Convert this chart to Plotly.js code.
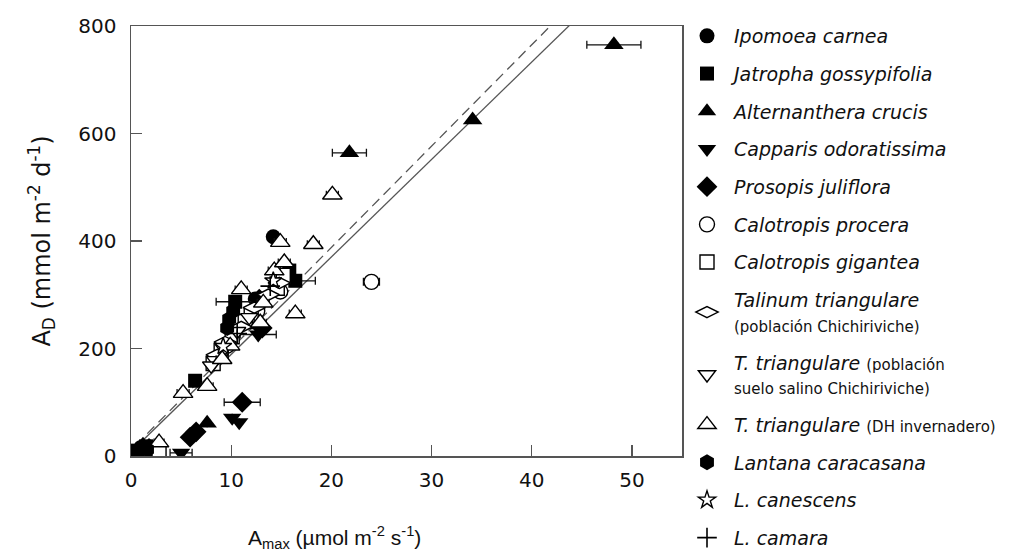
<!DOCTYPE html>
<html>
<head>
<meta charset="utf-8">
<script src="https://cdn.plot.ly/plotly-3.0.1.min.js"></script>
<style>html,body{margin:0;padding:0;background:#fff;}#chart{width:1018px;height:553px;}</style>
</head>
<body>
<div id="chart"></div>
<script>
// ---- data ----
const ipomoeaX = [14.2, 12.4, 1.0];
const ipomoeaY = [408, 292, 16];
const ipomoeaErr = [0, 0, 0];

const jatrophaX = [15.8, 16.4, 10.4, 6.4, 1.5, 0.6];
const jatrophaY = [345, 326, 287, 140, 18, 10];
const jatrophaErr = [0, 2.0, 1.9, 0, 0, 0];

const alternantheraX = [48.2, 21.8, 34.1, 7.6, 1.2];
const alternantheraY = [765, 564, 625, 61, 20];
const alternantheraErr = [2.7, 1.7, 0, 0, 0];

const capparisX = [12.7, 10.1, 10.8, 5.0, 2.6];
const capparisY = [226, 71, 63, 6, 12];
const capparisErr = [1.8, 0, 0, 1.1, 0];

const prosopisX = [11.1, 6.5, 5.9, 12.8, 13.1, 1.8];
const prosopisY = [100, 45, 35, 292, 238, 14];
const prosopisErr = [1.8, 0, 0, 0, 0, 0];

const proceraX = [24.0, 14.9, 9.6, 12.6];
const proceraY = [324, 306, 205, 270];
const proceraErr = [0.8, 0.6, 0.5, 0.5];

const giganteaX = [14.6, 15.2, 9.0, 10.1, 2.8, 12.0, 8.2, 11.4];
const giganteaY = [312, 336, 196, 222, 10, 262, 172, 250];
const giganteaErr = [0, 0, 0, 0, 0, 0, 0, 0];

const talinumX = [14.8, 13.7, 11.0, 9.4, 8.6, 12.3];
const talinumY = [322, 300, 240, 212, 188, 276];
const talinumErr = [0, 0, 0, 0, 0, 0];

const salinoX = [8.4, 9.3, 10.6, 8.0, 11.8];
const salinoY = [178, 200, 232, 168, 258];
const salinoErr = [0, 0, 0, 0, 0];

const dhX = [20.1, 18.2, 14.9, 16.4, 14.3, 11.0, 7.6, 5.2, 15.3, 9.1, 13.2, 2.8, 9.9, 12.9];
const dhY = [486, 394, 398, 265, 345, 310, 130, 117, 360, 180, 285, 25, 205, 248];
const dhErr = [0.6, 0.6, 0.6, 0.6, 0.6, 0.6, 0.6, 0.6, 0.6, 0.6, 0.6, 0.5, 0.6, 0.6];

const lantanaX = [9.8, 10.2, 9.6, 0.5, 1.6];
const lantanaY = [255, 270, 238, 8, 12];
const lantanaErr = [0, 0, 0, 0, 0];

const canescensX = [14.2, 9.2];
const canescensY = [326, 204];
const canescensErr = [0, 0];

const camaraX = [13.9, 10.6];
const camaraY = [316, 228];
const camaraErr = [0, 0];

// regression lines: slope, intercept, x start, x end
const fitSolid = [18.13, 7.7, 0.5, 46];
const fitDashed = [18.85, 11.0, 0.5, 46];

const xTicks = [0, 10, 20, 30, 40, 50];
const yTicks = [0, 200, 400, 600, 800];

const small = (t) => "<span style='font-size:15px'>" + t + "</span>";
const seriesNames = [
  "<i>Ipomoea carnea</i>",
  "<i>Jatropha gossypifolia</i>",
  "<i>Alternanthera crucis</i>",
  "<i>Capparis odoratissima</i>",
  "<i>Prosopis juliflora</i>",
  "<i>Calotropis procera</i>",
  "<i>Calotropis gigantea</i>",
  "<i>Talinum triangulare</i><br>" + small("(población Chichiriviche)"),
  "<i>T. triangulare</i> " + small("(población") + "<br>" + small("suelo salino Chichiriviche)"),
  "<i>T. triangulare</i> " + small("(DH invernadero)"),
  "<i>Lantana caracasana</i>",
  "<i>L. canescens</i>",
  "<i>L. camara</i>"
];

// ---- build traces ----
const series = [
  [ipomoeaX, ipomoeaY, ipomoeaErr, 'circle', 15, true],
  [jatrophaX, jatrophaY, jatrophaErr, 'square', 14, true],
  [alternantheraX, alternantheraY, alternantheraErr, 'triangle-up', 17, true],
  [capparisX, capparisY, capparisErr, 'triangle-down', 16, true],
  [prosopisX, prosopisY, prosopisErr, 'diamond', 16, true],
  [proceraX, proceraY, proceraErr, 'circle', 15, false],
  [giganteaX, giganteaY, giganteaErr, 'square', 14, false],
  [talinumX, talinumY, talinumErr, 'diamond-wide', 16, false],
  [salinoX, salinoY, salinoErr, 'triangle-down', 15, false],
  [dhX, dhY, dhErr, 'triangle-up', 17, false],
  [lantanaX, lantanaY, lantanaErr, 'hexagon', 16, true],
  [canescensX, canescensY, canescensErr, 'star', 13, false],
  [camaraX, camaraY, camaraErr, 'cross-thin-open', 14, true]
];

const traces = [];
function fitLine(fit, dash) {
  const xs = [fit[2], fit[3]];
  return {
    x: xs, y: xs.map(v => fit[0] * v + fit[1]),
    mode: 'lines', type: 'scatter', showlegend: false, hoverinfo: 'skip',
    line: {color: '#555', width: 1.3, dash: dash}
  };
}
traces.push(fitLine(fitDashed, '10px,6px'));
traces.push(fitLine(fitSolid, 'solid'));

series.forEach((s, i) => {
  const filled = s[5];
  const isCross = s[3] === 'cross-thin-open';
  traces.push({
    x: s[0], y: s[1], type: 'scatter', mode: 'markers',
    name: seriesNames[i], legendgroup: 'g' + i,
    error_x: {type: 'data', array: s[2], visible: true, color: '#111', thickness: 1.3, width: 4},
    marker: {
      symbol: s[3], size: s[4],
      color: filled ? '#000' : '#fff',
      line: {color: '#000', width: isCross ? 1.6 : (filled ? 0 : 1.4)}
    }
  });
});

const FONT = 'DejaVu Sans, Verdana, sans-serif';
const axisBase = {
  showline: true, linecolor: '#555', linewidth: 1.5, mirror: true,
  ticks: 'inside', ticklen: 11, tickwidth: 1.3, tickcolor: '#555',
  showgrid: false, zeroline: false, automargin: false,
  tickfont: {family: FONT, size: 20, color: '#111'}
};

const layout = {
  width: 1018, height: 553,
  margin: {l: 131, r: 336, t: 26, b: 97, pad: 0, autoexpand: false},
  paper_bgcolor: '#fff', plot_bgcolor: '#fff',
  showlegend: true,
  xaxis: Object.assign({}, axisBase, {
    range: [0, 55], tickvals: xTicks, ticktext: xTicks.map(String), ticklabelstandoff: 5
  }),
  yaxis: Object.assign({}, axisBase, {
    range: [0, 800], tickvals: yTicks, ticktext: yTicks.map(String), ticklabelstandoff: 9,
    title: {text: 'A<sub>D</sub> (mmol m<sup>-2</sup> d<sup>-1</sup>)', standoff: 21,
      font: {family: FONT, size: 24, color: '#111'}}
  }),
  annotations: [{
    xref: 'paper', yref: 'paper', x: (334 - 131) / 551, y: -(537 - 456) / 430,
    xanchor: 'center', yanchor: 'middle', showarrow: false,
    text: 'A<sub>max</sub> (µmol m<sup>-2</sup> s<sup>-1</sup>)',
    font: {family: 'Liberation Sans, Arial, sans-serif', size: 21, color: '#111'}
  }],
  legend: {
    x: (680 - 131) / 551, y: 1 - 17 / 553, yref: 'container', xanchor: 'left', yanchor: 'top',
    bgcolor: 'rgba(0,0,0,0)', borderwidth: 0, maxheight: 700,
    traceorder: 'grouped', tracegroupgap: 10, itemwidth: 44,
    font: {family: FONT, size: 19, color: '#111'}
  }
};

Plotly.newPlot('chart', traces, layout, {displayModeBar: false, staticPlot: true});
</script>
</body>
</html>
